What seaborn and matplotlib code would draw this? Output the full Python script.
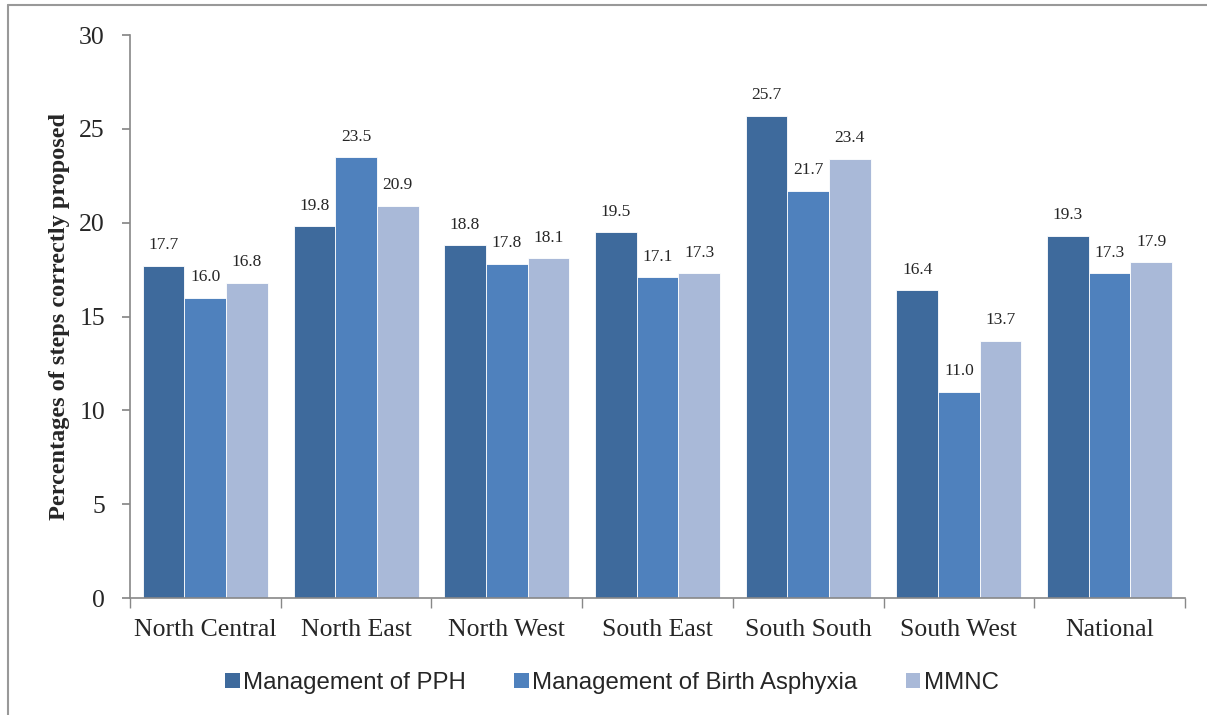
import numpy as np
import pandas as pd
import seaborn as sns
import matplotlib.pyplot as plt
from matplotlib.lines import Line2D
from matplotlib.patches import Patch

# -------- Data --------
regions = ["North Central", "North East", "North West", "South East",
           "South South", "South West", "National"]
series = ["Management of PPH", "Management of Birth Asphyxia", "MMNC"]
pph = [17.7, 19.8, 18.8, 19.5, 25.7, 16.4, 19.3]
asphyxia = [16.0, 23.5, 17.8, 17.1, 21.7, 11.0, 17.3]
mmnc = [16.8, 20.9, 18.1, 17.3, 23.4, 13.7, 17.9]
colors = ["#3e6a9c", "#4f81bd", "#a9b9d8"]

df = pd.DataFrame({
    "Region": regions * 3,
    "Series": [series[0]] * 7 + [series[1]] * 7 + [series[2]] * 7,
    "Value": pph + asphyxia + mmnc,
})

sns.set_theme(style="white")
plt.rcParams["font.family"] = ["Liberation Serif", "DejaVu Serif"]

fig = plt.figure(figsize=(12.07, 7.15), dpi=100)
ax = fig.add_axes([0.1077, 0.1636, 0.874, 0.7874])

sns.barplot(data=df, x="Region", y="Value", hue="Series", order=regions,
            hue_order=series, palette=colors, width=0.83, saturation=1,
            edgecolor="white", linewidth=0.6, ax=ax, legend=False)

# ---- Data labels ----
for cont in ax.containers:
    ax.bar_label(cont, fmt="%.1f", padding=9, fontsize=12.5)

ax.set_ylim(0, 30)
ax.set_xlim(-0.5, 6.5)
ax.set_yticks(range(0, 31, 5))
ax.tick_params(axis="y", labelsize=18.5, length=6, color="#888888", direction="out", left=True, pad=12)
ax.set_xticks(range(7))
ax.set_xticklabels(regions, fontsize=18.5)
ax.tick_params(axis="x", length=0, pad=15)
ax.set_xticks(np.arange(-0.5, 7, 1), minor=True)
ax.tick_params(axis="x", which="minor", length=7, color="#888888", direction="out", bottom=True)
ax.set_xlabel("")
ax.set_ylabel("Percentages of steps correctly proposed", fontsize=17.5,
              fontweight="bold", labelpad=2)
ax.yaxis.set_label_coords(-0.057, 0.5)

for s in ["top", "right"]:
    ax.spines[s].set_visible(False)
for s in ["left", "bottom"]:
    ax.spines[s].set_color("#888888")
    ax.spines[s].set_linewidth(1.2)

# ---- Legend ----
handles = [Patch(facecolor=c, edgecolor="none") for c in colors]
fig.legend(handles, series, loc="center", bbox_to_anchor=(0.507, 0.045), ncol=3,
           frameon=False, prop={"family": "Liberation Sans", "size": 17.3},
           handlelength=0.6, handleheight=0.6, handletextpad=0.15, columnspacing=2.0)

# ---- Outer border (top and left) ----
fig.add_artist(Line2D([0.007, 1.0], [0.993, 0.993], transform=fig.transFigure,
                      color="#999999", linewidth=1.5))
fig.add_artist(Line2D([0.007, 0.007], [0.0, 0.993], transform=fig.transFigure,
                      color="#999999", linewidth=1.5))

plt.savefig("out.png", dpi=100)
